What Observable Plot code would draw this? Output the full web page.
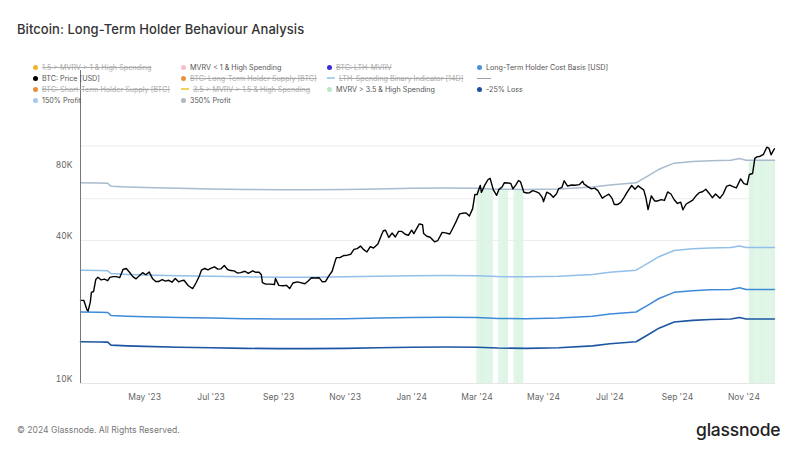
<!DOCTYPE html>
<html><head><meta charset="utf-8">
<script src="https://cdn.jsdelivr.net/npm/d3@7"></script>
<script src="https://cdn.jsdelivr.net/npm/@observablehq/plot@0.6"></script>
<style>
body{margin:0;background:#fff;font-family:Inter,"Open Sans",sans-serif;}
#wrap{position:relative;width:800px;height:450px;overflow:hidden;background:#fff}
#chart{position:absolute;left:0;top:0}
#title{position:absolute;left:17px;top:21px;font-size:13px;color:#333;font-weight:500;letter-spacing:0.05px}
.li{position:absolute;white-space:nowrap;display:flex;align-items:center;font-size:7.2px;color:#555;height:10px}
.dot{width:5px;height:5px;border-radius:50%;margin-right:4px;flex:none}
.ln{width:8px;height:1.4px;margin-right:4px;flex:none}
.off{color:#aaa;text-decoration:line-through}
#copy{position:absolute;left:17px;top:425px;font-size:8.6px;color:#777}
#logo{position:absolute;left:696px;top:419px;font-size:17.5px;color:#222;font-weight:500;letter-spacing:-0.2px}
</style></head>
<body><div id="wrap"><div id="chart"></div>
<div id="title">Bitcoin: Long-Term Holder Behaviour Analysis</div>
<div id="legend"></div>
<div id="copy">© 2024 Glassnode. All Rights Reserved.</div>
<div id="logo">glassnode</div>
</div>
<script>
// ---- data (USD thousands) ----
const btcPrice = [
["2023-03-03",22.4],["2023-03-06",22.4],["2023-03-09",20.4],["2023-03-10",20.2],["2023-03-12",22.0],["2023-03-13",24.2],["2023-03-15",24.4],["2023-03-17",27.4],["2023-03-19",28.0],["2023-03-22",27.3],["2023-03-25",27.5],["2023-03-28",27.1],["2023-03-30",28.0],
["2023-04-02",28.2],["2023-04-05",28.2],["2023-04-08",27.9],["2023-04-11",30.2],["2023-04-14",30.5],["2023-04-17",29.4],["2023-04-20",28.2],["2023-04-23",27.6],["2023-04-26",28.4],["2023-04-29",29.3],
["2023-05-02",28.7],["2023-05-05",29.5],["2023-05-08",27.7],["2023-05-11",26.9],["2023-05-14",26.9],["2023-05-17",27.4],["2023-05-20",27.0],["2023-05-23",27.2],["2023-05-26",26.7],["2023-05-29",27.7],
["2023-06-01",26.8],["2023-06-04",27.1],["2023-06-06",27.2],["2023-06-10",25.8],["2023-06-14",25.1],["2023-06-17",26.5],["2023-06-20",28.3],["2023-06-22",30.0],["2023-06-25",30.5],["2023-06-28",30.1],
["2023-07-01",30.6],["2023-07-04",31.0],["2023-07-07",30.3],["2023-07-10",30.4],["2023-07-13",31.4],["2023-07-16",30.2],["2023-07-19",29.9],["2023-07-22",29.8],["2023-07-25",29.2],["2023-07-28",29.3],
["2023-08-01",29.7],["2023-08-04",29.1],["2023-08-08",29.8],["2023-08-11",29.4],["2023-08-14",29.4],["2023-08-16",28.7],["2023-08-17",26.6],["2023-08-20",26.2],["2023-08-24",26.2],["2023-08-28",26.1],["2023-08-29",27.7],
["2023-09-01",25.9],["2023-09-05",25.8],["2023-09-08",25.9],["2023-09-11",25.1],["2023-09-14",26.5],["2023-09-18",26.8],["2023-09-21",26.6],["2023-09-25",26.3],["2023-09-28",27.0],
["2023-10-01",27.9],["2023-10-04",27.8],["2023-10-08",27.9],["2023-10-11",26.8],["2023-10-14",26.9],["2023-10-17",28.4],["2023-10-20",29.7],["2023-10-23",33.0],["2023-10-24",33.9],["2023-10-27",33.9],["2023-10-31",34.6],
["2023-11-03",34.7],["2023-11-06",35.0],["2023-11-09",36.7],["2023-11-12",37.0],["2023-11-15",37.9],["2023-11-18",36.6],["2023-11-21",35.8],["2023-11-24",37.7],["2023-11-27",37.2],
["2023-12-01",38.7],["2023-12-04",41.9],["2023-12-06",44.0],["2023-12-08",44.2],["2023-12-11",41.2],["2023-12-14",43.0],["2023-12-17",41.4],["2023-12-20",43.7],["2023-12-23",43.7],["2023-12-26",42.5],["2023-12-29",42.1],
["2024-01-01",44.2],["2024-01-03",42.8],["2024-01-08",47.0],["2024-01-11",46.6],["2024-01-12",42.8],["2024-01-15",41.7],["2024-01-18",41.3],["2024-01-22",39.5],["2024-01-25",40.0],["2024-01-29",43.3],
["2024-02-01",43.1],["2024-02-05",42.6],["2024-02-08",45.3],["2024-02-11",48.3],["2024-02-14",51.8],["2024-02-17",52.1],["2024-02-20",52.3],["2024-02-23",50.7],["2024-02-26",54.5],["2024-02-28",62.5],
["2024-03-01",62.4],["2024-03-04",68.3],["2024-03-05",63.8],["2024-03-08",68.3],["2024-03-11",72.1],["2024-03-13",73.1],["2024-03-16",65.3],["2024-03-19",62.0],["2024-03-21",65.5],["2024-03-24",67.2],["2024-03-26",70.0],["2024-03-29",69.9],
["2024-04-01",69.6],["2024-04-03",66.0],["2024-04-06",68.9],["2024-04-08",71.6],["2024-04-10",70.6],["2024-04-13",63.9],["2024-04-16",63.4],["2024-04-18",63.5],["2024-04-21",64.9],["2024-04-24",64.3],["2024-04-27",63.4],["2024-04-30",60.6],
["2024-05-01",58.3],["2024-05-04",63.9],["2024-05-07",62.9],["2024-05-10",60.8],["2024-05-13",62.9],["2024-05-15",66.2],["2024-05-18",67.0],["2024-05-20",71.4],["2024-05-23",67.9],["2024-05-27",68.5],["2024-05-30",68.4],
["2024-06-03",68.8],["2024-06-06",71.1],["2024-06-07",69.3],["2024-06-11",67.3],["2024-06-14",66.0],["2024-06-17",66.5],["2024-06-20",64.9],["2024-06-24",60.3],["2024-06-27",61.6],["2024-06-30",62.7],
["2024-07-03",60.2],["2024-07-05",56.7],["2024-07-08",56.7],["2024-07-11",57.9],["2024-07-14",60.8],["2024-07-17",64.1],["2024-07-21",68.2],["2024-07-24",65.8],["2024-07-27",68.0],["2024-07-29",66.8],
["2024-08-01",65.4],["2024-08-03",60.7],["2024-08-05",54.0],["2024-08-08",61.7],["2024-08-11",58.7],["2024-08-14",58.7],["2024-08-17",59.5],["2024-08-20",59.0],["2024-08-23",64.1],["2024-08-26",62.8],["2024-08-29",59.4],
["2024-09-01",57.3],["2024-09-04",58.0],["2024-09-06",53.9],["2024-09-09",57.0],["2024-09-12",58.1],["2024-09-15",59.2],["2024-09-18",61.7],["2024-09-21",63.6],["2024-09-24",64.2],["2024-09-27",65.8],["2024-09-30",63.3],
["2024-10-03",60.6],["2024-10-06",62.8],["2024-10-10",60.3],["2024-10-13",62.9],["2024-10-16",67.6],["2024-10-19",68.4],["2024-10-22",67.4],["2024-10-25",66.6],["2024-10-29",72.7],
["2024-11-01",69.5],["2024-11-04",68.8],["2024-11-06",75.9],["2024-11-09",76.6],["2024-11-11",88.7],["2024-11-13",90.0],["2024-11-16",90.6],["2024-11-19",92.3],["2024-11-22",98.9],["2024-11-24",97.9],["2024-11-26",91.9],["2024-11-28",95.6],["2024-11-29",97.4]
];
const levelDates = ["2023-03-03","2023-03-20","2023-03-28","2023-03-31","2023-04-15","2023-05-01","2023-06-01","2023-07-01","2023-08-01","2023-09-01","2023-10-01","2023-11-01","2023-12-01","2024-01-01","2024-02-01","2024-03-01","2024-03-20","2024-04-15","2024-05-15","2024-06-15","2024-07-01","2024-07-25","2024-08-05","2024-08-15","2024-08-29","2024-09-15","2024-10-01","2024-10-20","2024-10-28","2024-11-03","2024-11-15","2024-11-29"];
const lthCostBasis = [20.0,19.95,19.9,19.35,19.2,19.1,18.95,18.85,18.75,18.7,18.7,18.75,18.85,18.95,19.0,18.95,18.8,18.75,18.85,19.2,19.6,20.0,21.4,22.8,24.2,24.6,24.8,24.9,25.3,24.9,24.9,24.9];
const profit150 = [30.0,29.93,29.85,29.03,28.8,28.65,28.43,28.28,28.13,28.05,28.05,28.13,28.28,28.43,28.5,28.43,28.2,28.13,28.28,28.8,29.4,30.0,32.1,34.2,36.3,36.9,37.2,37.35,37.95,37.35,37.35,37.35];
const profit350 = [70.0,69.83,69.65,67.73,67.2,66.85,66.33,65.98,65.63,65.45,65.45,65.63,65.98,66.33,66.5,66.33,65.8,65.63,65.98,67.2,68.6,70.0,74.9,79.8,84.7,86.1,86.8,87.15,88.55,87.15,87.15,87.15];
const loss25 = [15.0,14.96,14.93,14.51,14.4,14.33,14.21,14.14,14.06,14.03,14.03,14.06,14.14,14.21,14.25,14.21,14.1,14.06,14.14,14.4,14.7,15.0,16.05,17.1,18.15,18.45,18.6,18.68,18.98,18.68,18.68,18.68];
// MVRV > 3.5 & High Spending periods
const spendStart = ["2024-03-01","2024-03-21","2024-04-04","2024-11-06"];
const spendEnd   = ["2024-03-15","2024-03-29","2024-04-12","2024-11-29"];
const yTicks = [10000,40000,80000];
const yGrid = [40000,60000,100000];
const xTicks = ["2023-05-01","2023-07-01","2023-09-01","2023-11-01","2024-01-01","2024-03-01","2024-05-01","2024-07-01","2024-09-01","2024-11-01"];

const legendItems = [
 // [col,row,label,color,kind,off]
 [0,0,"1.5 > MVRV > 1 & High Spending","#f0b429","dot",true],
 [1,0,"MVRV < 1 & High Spending","#f6bfd0","dot",false],
 [2,0,"BTC: LTH-MVRV","#3b2fd9","dot",true],
 [3,0,"Long-Term Holder Cost Basis [USD]","#4a90d9","dot",false],
 [0,1,"BTC: Price [USD]","#000000","dot",false],
 [1,1,"BTC: Long-Term Holder Supply [BTC]","#e8913a","dot",true],
 [2,1,"LTH-Spending Binary Indicator [14D]","#a9d4f0","line",true],
 [3,1,"","#9aa3ad","line",false],
 [0,2,"BTC: Short-Term Holder Supply [BTC]","#e8913a","dot",true],
 [1,2,"3.5 > MVRV > 1.5 & High Spending","#f0d35a","line",true],
 [2,2,"MVRV > 3.5 & High Spending","#b8e8c8","dot",false],
 [3,2,"-25% Loss","#1c4f9c","dot",false],
 [0,3,"150% Profit","#a6c8ec","dot",false],
 [1,3,"350% Profit","#b0b8c2","dot",false]
];

// ---- build ----
const parse = d3.utcParse("%Y-%m-%d");
const price = btcPrice.map(([d,v]) => ({date: parse(d), v: v*1000}));
const series = vals => levelDates.map((d,i) => ({date: parse(d), v: vals[i]*1000}));
const sCB = series(lthCostBasis), s150 = series(profit150), s350 = series(profit350), s25 = series(loss25);
const bis = d3.bisector(d => d.date).left;
function at350(t){
  const i = Math.max(1, Math.min(s350.length-1, bis(s350, t)));
  const a = s350[i-1], b = s350[i];
  const f = (t - a.date)/(b.date - a.date);
  return a.v + (b.v - a.v)*f;
}
const bandDays = [];
spendStart.forEach((s,i) => {
  d3.utcDay.range(parse(s), d3.utcDay.offset(parse(spendEnd[i]),1)).forEach(d => {
    bandDays.push({date: d, next: d3.utcDay.offset(d,1), base: 10000, top: at350(d)});
  });
});
const x0 = parse("2023-03-03"), x1 = parse("2024-11-30");
const yMax = 208000;

const chart = Plot.plot({
  width: 800, height: 420,
  marginTop: 70, marginBottom: 37, marginLeft: 80, marginRight: 25,
  style: {fontFamily: "Inter, 'Open Sans', sans-serif", background: "transparent", overflow: "visible"},
  x: {type: "utc", domain: [x0, x1]},
  y: {type: "log", domain: [10000, yMax]},
  marks: [
    Plot.ruleY(yGrid, {stroke: "#ededed"}),
    Plot.ruleY([10000], {stroke: "#e6e6e6"}),
    Plot.rect(bandDays, {x1: "date", x2: "next", y1: "base", y2: "top", fill: "#f0fbf4"}),
    Plot.ruleX(bandDays, {x: "date", y1: "base", y2: "top", stroke: "#c2eed2", strokeWidth: 0.45}),
    Plot.line(s25, {x: "date", y: "v", stroke: "#1c55a3", strokeWidth: 1.6}),
    Plot.line(sCB, {x: "date", y: "v", stroke: "#3f8ad8", strokeWidth: 1.5}),
    Plot.line(s150, {x: "date", y: "v", stroke: "#92bfe9", strokeWidth: 1.5}),
    Plot.line(s350, {x: "date", y: "v", stroke: "#a9bbcd", strokeWidth: 1.5}),
    Plot.line(price, {x: "date", y: "v", stroke: "#000", strokeWidth: 1.4}),
    Plot.ruleX([x0], {y1: 10000, y2: yMax, stroke: "#777", strokeWidth: 1}),
    Plot.axisY(yTicks, {tickSize: 0, tickPadding: 8, dy: -4, tickFormat: d => (d/1000) + "K", fontSize: 8.5, fill: "#666", label: null}),
    Plot.axisX(xTicks.map(parse), {tickSize: 0, tickPadding: 10, tickFormat: d3.utcFormat("%b '%y"), fontSize: 8.5, fill: "#666", label: null})
  ]
});
document.getElementById("chart").appendChild(chart);

const colX = [33, 181, 327, 477], rowY = [62, 73, 84, 95];
const leg = document.getElementById("legend");
legendItems.forEach(([c,r,label,color,kind,off]) => {
  const el = document.createElement("div");
  el.className = "li";
  el.style.left = colX[c] + "px"; el.style.top = rowY[r] + "px";
  const sym = document.createElement("span");
  sym.className = kind === "dot" ? "dot" : "ln";
  sym.style.background = color;
  if (kind === "line" && label === "") { sym.style.width = "14px"; sym.style.height = "1px"; }
  el.appendChild(sym);
  const t = document.createElement("span");
  t.textContent = label;
  if (off) t.className = "off";
  el.appendChild(t);
  leg.appendChild(el);
});
</script>
</body></html>
